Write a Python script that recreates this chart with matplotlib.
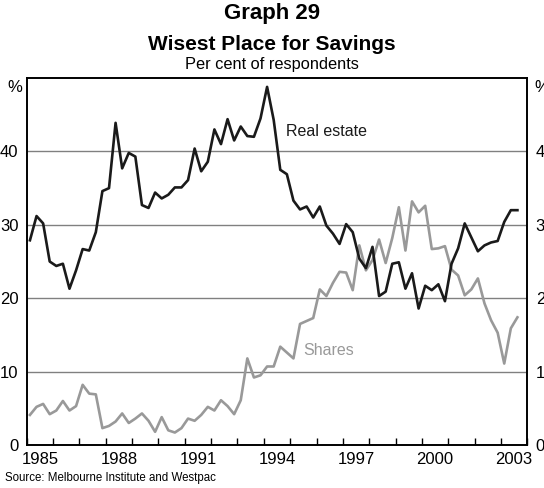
import numpy as np
import matplotlib
matplotlib.use("Agg")
import matplotlib.pyplot as plt

plt.rcParams['font.family'] = ['Liberation Sans', 'DejaVu Sans']

# Quarterly survey, March quarter 1985 to September quarter 2003
real_estate = [27.9, 31.2, 30.2, 25.0, 24.4, 24.7, 21.3, 23.8, 26.7, 26.5,
               29.0, 34.6, 35.0, 43.9, 37.7, 39.8, 39.3, 32.7, 32.3, 34.4,
               33.6, 34.1, 35.1, 35.1, 36.1, 40.4, 37.3, 38.6, 43.0, 41.0,
               44.4, 41.5, 43.4, 42.1, 42.0, 44.5, 48.8, 44.3, 37.5, 36.9,
               33.3, 32.1, 32.5, 31.0, 32.5, 29.9, 28.8, 27.4, 30.1, 29.0,
               25.4, 24.1, 27.0, 20.3, 20.9, 24.7, 24.9, 21.3, 23.4, 18.6,
               21.7, 21.1, 21.9, 19.6, 24.7, 26.8, 30.2, 28.3, 26.4, 27.2,
               27.6, 27.8, 30.4, 32.0, 32.0]
shares = [4.1, 5.2, 5.6, 4.2, 4.7, 6.0, 4.7, 5.3, 8.2, 7.0,
          6.9, 2.3, 2.6, 3.2, 4.3, 3.0, 3.6, 4.3, 3.3, 1.8,
          3.8, 2.0, 1.7, 2.3, 3.6, 3.3, 4.1, 5.2, 4.7, 6.1,
          5.3, 4.2, 6.1, 11.8, 9.2, 9.5, 10.7, 10.7, 13.4, 12.6,
          11.8, 16.5, 16.9, 17.3, 21.2, 20.3, 22.1, 23.6, 23.5, 21.1,
          27.2, 23.8, 25.2, 28.0, 24.8, 28.2, 32.4, 26.5, 33.2, 31.7,
          32.6, 26.7, 26.8, 27.1, 23.9, 23.1, 20.4, 21.2, 22.7, 19.3,
          17.0, 15.3, 11.1, 15.9, 17.4]
dates = 1985.125 + np.arange(len(real_estate)) / 4
year_labels = [1985, 1988, 1991, 1994, 1997, 2000, 2003]
y_ticks = [0, 10, 20, 30, 40]

fig = plt.figure(figsize=(5.44, 4.88), dpi=100)
ax = fig.add_axes([0.049, 0.0881, 0.9203, 0.7519])

ax.plot(dates, real_estate, color='#1a1a1a', lw=1.9, zorder=3)
ax.plot(dates, shares, color='#999999', lw=1.9, zorder=2)

ax.set_xlim(1985, 2004)
ax.set_ylim(0, 50)
for v in [10, 20, 30, 40]:
    ax.axhline(v, color='#808080', lw=1.0, zorder=1)

# year boundaries get tick marks, labels sit mid-year
ax.set_xticks(range(1985, 2005))
ax.set_xticklabels([])
ax.tick_params(axis='x', which='major', direction='in', length=5, width=1)
ax.set_xticks([y + 0.5 for y in year_labels], minor=True)
ax.set_xticklabels([str(y) for y in year_labels], minor=True, fontsize=12)
ax.tick_params(axis='x', which='minor', length=0, pad=5)

ax.set_yticks(y_ticks)
ax.set_yticklabels([str(v) for v in y_ticks], fontsize=12)
ax.tick_params(axis='y', length=0, pad=6)

ax2 = ax.twinx()
ax2.set_ylim(0, 50)
ax2.set_yticks(y_ticks)
ax2.set_yticklabels([str(v) for v in y_ticks], fontsize=12)
ax2.tick_params(axis='y', length=0, pad=6)

for a in (ax, ax2):
    for s in a.spines.values():
        s.set_linewidth(1.2)

ax.text(-0.008, 0.975, '%', transform=ax.transAxes, ha='right', va='center', fontsize=12)
ax.text(1.015, 0.975, '%', transform=ax.transAxes, ha='left', va='center', fontsize=12)

ax.text(1994.85, 42.7, 'Real estate', ha='left', va='center', fontsize=11.5, color='#1a1a1a')
ax.text(1995.5, 12.9, 'Shares', ha='left', va='center', fontsize=11.5, color='#999999')

fig.text(0.5, 1 - 13 / 488, 'Graph 29', ha='center', va='center', fontsize=16, fontweight='bold')
fig.text(0.5, 1 - 45 / 488, 'Wisest Place for Savings', ha='center', va='center', fontsize=15, fontweight='bold')
fig.text(0.5, 1 - 65 / 488, 'Per cent of respondents', ha='center', va='center', fontsize=11.8)
fig.text(5 / 544, 1 - 478 / 488, 'Source: Melbourne Institute and Westpac', ha='left', va='center', fontsize=8.3)

fig.savefig('out.png', dpi=100)
